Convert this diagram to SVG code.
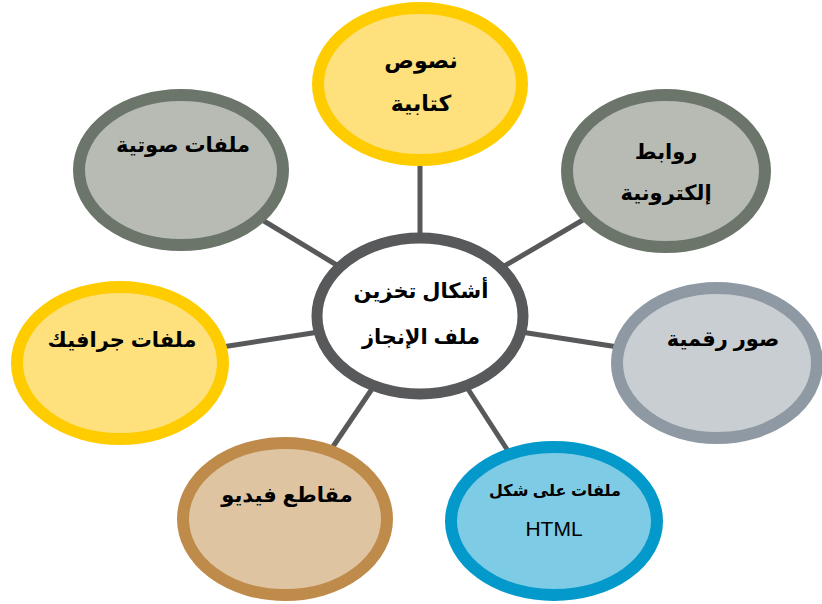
<svg xmlns="http://www.w3.org/2000/svg" width="822" height="604" viewBox="0 0 822 604">
  <style>
    .link { stroke: #58595b; stroke-width: 5; fill: none; }
    .ring { stroke-width: 12; }
    .ar { font-family: "Liberation Sans", "DejaVu Sans", sans-serif; font-weight: bold; font-size: 21px; fill: #000; text-anchor: middle; direction: rtl; }
    .lat { font-family: "Liberation Sans", Arial, sans-serif; font-size: 21px; fill: #000; text-anchor: middle; }
    .yellow { fill: #fee17d; stroke: #ffcc00; }
    .olive { fill: #b7bbb3; stroke: #6b756a; }
    .steel { fill: #c9ced3; stroke: #8e99a3; }
    .blue { fill: #7ecbe5; stroke: #0399cb; }
    .tan { fill: #dfc4a1; stroke: #bf8b4b; }
    .hub { fill: #ffffff; stroke: #58595b; stroke-width: 11; }
  </style>

  <rect width="822" height="604" fill="#ffffff"/>

  <!-- spokes from the hub to each storage form -->
  <g id="connectors">
    <line class="link" x1="420" y1="160" x2="420" y2="240"/>
    <line class="link" x1="259" y1="218" x2="340" y2="267"/>
    <line class="link" x1="588" y1="217" x2="501" y2="268"/>
    <line class="link" x1="222" y1="347" x2="319" y2="332"/>
    <line class="link" x1="618" y1="347" x2="521" y2="332"/>
    <line class="link" x1="330" y1="451" x2="374" y2="386"/>
    <line class="link" x1="510" y1="454" x2="466" y2="386"/>
  </g>

  <g id="hub">
    <ellipse class="ring hub" cx="420" cy="316" rx="103" ry="78"/>
    <text class="ar" x="421" y="298">أشكال تخزين</text>
    <text class="ar" x="421" y="344">ملف الإنجاز</text>
  </g>

  <g id="node-text">
    <ellipse class="ring yellow" cx="420" cy="84" rx="102" ry="76"/>
    <text class="ar" x="421" y="68" style="font-size:22px">نصوص</text>
    <text class="ar" x="421" y="111" style="font-size:22px">كتابية</text>
  </g>

  <g id="node-audio">
    <ellipse class="ring olive" cx="181" cy="170" rx="102" ry="75"/>
    <text class="ar" x="183" y="152">ملفات صوتية</text>
  </g>

  <g id="node-links">
    <ellipse class="ring olive" cx="666" cy="171" rx="99" ry="76"/>
    <text class="ar" x="666" y="159">روابط</text>
    <text class="ar" x="666" y="200">إلكترونية</text>
  </g>

  <g id="node-graphics">
    <ellipse class="ring yellow" cx="120" cy="363" rx="103" ry="76"/>
    <text class="ar" x="122" y="347">ملفات جرافيك</text>
  </g>

  <g id="node-images">
    <ellipse class="ring steel" cx="717" cy="363" rx="100" ry="75"/>
    <text class="ar" x="723" y="346">صور رقمية</text>
  </g>

  <g id="node-video">
    <ellipse class="ring tan" cx="285" cy="519" rx="102" ry="76"/>
    <text class="ar" x="287" y="502">مقاطع فيديو</text>
  </g>

  <g id="node-html">
    <ellipse class="ring blue" cx="554" cy="521" rx="103" ry="74"/>
    <text class="ar" x="555" y="496" style="font-size:16px">ملفات على شكل</text>
    <text class="lat" x="554" y="536">HTML</text>
  </g>
</svg>
